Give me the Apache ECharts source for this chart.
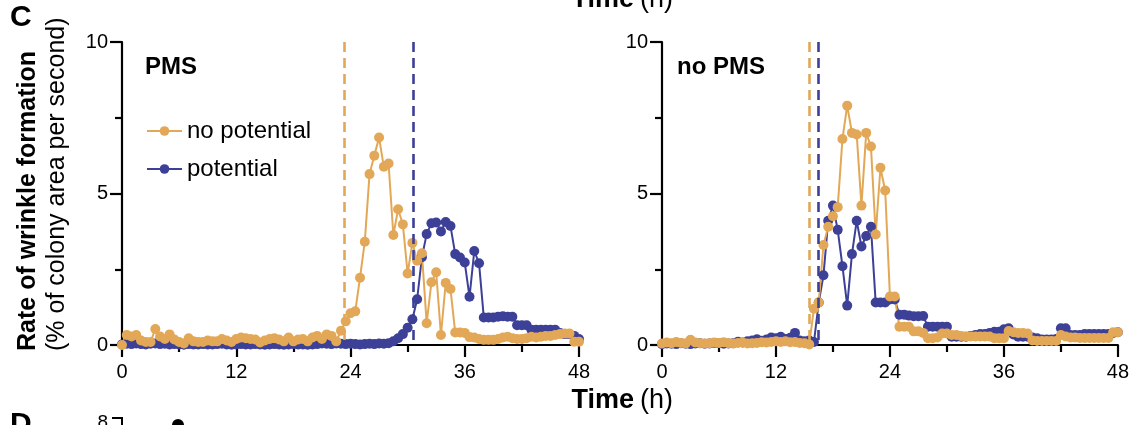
<!DOCTYPE html>
<html>
<head>
<meta charset="utf-8">
<script src="https://cdn.jsdelivr.net/npm/echarts@6/dist/echarts.min.js"></script>
<style>
html,body{margin:0;padding:0;background:#fff;}
#chart{width:1132px;height:425px;}
</style>
</head>
<body>
<div id="chart"></div>
<script>
// Sampling times (h)
const TIMES = [0,0.5,1,1.5,2,2.5,3,3.5,4,4.5,5,5.5,6,6.5,7,7.5,8,8.5,9,9.5,
10,10.5,11,11.5,12,12.5,13,13.5,14,14.5,15,15.5,16,16.5,17,17.5,18,18.5,19,19.5,
20,20.5,21,21.5,22,22.5,23,23.5,24,24.5,25,25.5,26,26.5,27,27.5,28,28.5,29,29.5,
30,30.5,31,31.5,32,32.5,33,33.5,34,34.5,35,35.5,36,36.5,37,37.5,38,38.5,39,39.5,
40,40.5,41,41.5,42,42.5,43,43.5,44,44.5,45,45.5,46,46.5,47,47.5,48];

// PMS panel
const PMS_NO_POTENTIAL = [0.00,0.33,0.28,0.33,0.15,0.10,0.10,0.53,0.28,0.20,
0.35,0.18,0.10,0.05,0.22,0.12,0.10,0.10,0.15,0.12,
0.12,0.20,0.15,0.10,0.20,0.25,0.22,0.20,0.18,0.08,
0.15,0.20,0.22,0.18,0.12,0.25,0.12,0.18,0.20,0.12,
0.25,0.30,0.20,0.35,0.30,0.12,0.47,0.78,1.05,1.11,
2.22,3.41,5.64,6.25,6.85,5.88,5.99,3.63,4.48,3.98,
2.36,3.37,2.78,3.03,0.72,2.07,2.40,0.33,2.05,1.85,
0.41,0.41,0.40,0.26,0.25,0.20,0.17,0.17,0.17,0.20,
0.25,0.27,0.22,0.20,0.20,0.22,0.27,0.25,0.27,0.30,
0.30,0.33,0.36,0.38,0.38,0.11,0.11];
const PMS_POTENTIAL = [0.02,0.04,0.03,0.05,0.03,0.02,0.04,0.05,0.03,0.04,
0.02,0.03,0.02,0.01,0.03,0.02,0.02,0.03,0.02,0.02,
0.03,0.04,0.02,0.01,0.02,0.03,0.02,0.02,0.03,0.02,
0.01,0.02,0.03,0.02,0.01,0.02,0.03,0.02,0.02,0.01,
0.02,0.03,0.05,0.04,0.03,0.05,0.04,0.03,0.04,0.03,
0.02,0.03,0.04,0.03,0.05,0.04,0.06,0.12,0.22,0.36,
0.57,0.85,1.51,2.90,3.66,4.02,4.04,3.75,4.06,3.93,
3.00,2.89,2.72,1.59,3.10,2.70,0.91,0.91,0.91,0.93,
0.95,0.93,0.93,0.65,0.65,0.65,0.50,0.50,0.50,0.50,
0.50,0.50,0.40,0.36,0.36,0.30,0.20];

// no PMS panel
const NOPMS_NO_POTENTIAL = [0.05,0.08,0.06,0.10,0.07,0.05,0.17,0.08,0.06,0.05,
0.06,0.08,0.07,0.09,0.06,0.05,0.07,0.08,0.05,0.06,
0.07,0.09,0.08,0.10,0.12,0.10,0.12,0.09,0.10,0.07,
0.06,0.02,1.20,1.40,3.30,3.90,4.25,4.55,6.80,7.90,
7.00,6.95,4.60,7.00,6.55,3.65,5.85,5.10,1.60,1.60,
0.60,0.60,0.60,0.45,0.45,0.40,0.22,0.22,0.25,0.38,
0.38,0.33,0.33,0.30,0.28,0.28,0.28,0.28,0.28,0.28,
0.22,0.22,0.22,0.46,0.42,0.40,0.40,0.38,0.15,0.13,
0.13,0.13,0.13,0.13,0.33,0.28,0.25,0.25,0.23,0.23,
0.23,0.23,0.23,0.23,0.23,0.42,0.42];
const NOPMS_POTENTIAL = [0.03,0.05,0.04,0.03,0.06,0.04,0.03,0.05,0.06,0.04,
0.05,0.07,0.06,0.04,0.05,0.06,0.11,0.08,0.12,0.15,
0.19,0.14,0.18,0.25,0.22,0.27,0.20,0.24,0.40,0.15,
0.12,0.15,0.10,1.40,2.30,4.10,4.60,3.80,2.60,1.30,
3.00,4.10,3.25,3.60,3.90,1.40,1.40,1.40,1.50,1.50,
1.00,1.00,0.97,0.95,0.95,0.96,0.60,0.60,0.60,0.60,
0.60,0.27,0.27,0.27,0.27,0.30,0.33,0.36,0.36,0.40,
0.44,0.44,0.52,0.55,0.35,0.27,0.27,0.27,0.25,0.22,
0.18,0.18,0.18,0.20,0.55,0.55,0.33,0.33,0.33,0.36,
0.36,0.36,0.36,0.36,0.36,0.40,0.42];

// Onset times (dashed lines), h
const ONSET_PMS = {noPotential: 23.3, potential: 30.6};
const ONSET_NOPMS = {noPotential: 15.55, potential: 16.45};

const X_TICKS = [0, 12, 24, 36, 48];
const Y_TICKS = [0, 5, 10];
const PANEL_TITLES = ['PMS', 'no PMS'];
const SERIES_NAMES = ['no potential', 'potential'];

const ORANGE = '#E2A857';
const BLUE = '#3D4097';
const FONT = '"Liberation Sans", Arial, Helvetica, sans-serif';

const pairs = (vals) => TIMES.map((t, i) => [t, vals[i]]);

const chart = echarts.init(document.getElementById('chart'), null, {renderer: 'canvas'});

function xAxis(gi) {
  return {
    gridIndex: gi, type: 'value', min: X_TICKS[0], max: X_TICKS[X_TICKS.length - 1],
    interval: X_TICKS[1] - X_TICKS[0],
    axisLine: {show: true, onZero: false, lineStyle: {color: '#000', width: 2.2}},
    axisTick: {show: true, length: 12, lineStyle: {color: '#000', width: 2.2}},
    minorTick: {show: true, splitNumber: 2, length: 7, lineStyle: {color: '#000', width: 2.2}},
    splitLine: {show: false}, minorSplitLine: {show: false},
    axisLabel: {fontSize: 20, color: '#000', margin: 17, fontFamily: FONT}
  };
}
function yAxis(gi) {
  return {
    gridIndex: gi, type: 'value', min: Y_TICKS[0], max: Y_TICKS[Y_TICKS.length - 1],
    interval: Y_TICKS[1] - Y_TICKS[0],
    axisLine: {show: true, onZero: false, lineStyle: {color: '#000', width: 2.2}},
    axisTick: {show: true, length: 12, lineStyle: {color: '#000', width: 2.2}},
    minorTick: {show: true, splitNumber: 2, length: 7, lineStyle: {color: '#000', width: 2.2}},
    splitLine: {show: false}, minorSplitLine: {show: false},
    axisLabel: {fontSize: 20, color: '#000', margin: 14, fontFamily: FONT}
  };
}
function dataSeries(name, color, vals, gi) {
  return {
    name: name, type: 'line', xAxisIndex: gi, yAxisIndex: gi,
    data: pairs(vals), symbol: 'circle', symbolSize: 10, showAllSymbol: true,
    itemStyle: {color: color}, lineStyle: {color: color, width: 2},
    z: 3, animation: false
  };
}
function onsetSeries(onset, gi) {
  const dash = {type: [10, 6], width: 2.6};
  return {
    name: '_onset' + gi, type: 'line', xAxisIndex: gi, yAxisIndex: gi, data: [], z: 1,
    markLine: {
      silent: true, symbol: ['none', 'none'], label: {show: false}, animation: false,
      data: [
        [{coord: [onset.noPotential, 10], lineStyle: Object.assign({color: ORANGE}, dash)},
         {coord: [onset.noPotential, 0]}],
        [{coord: [onset.potential, 10], lineStyle: Object.assign({color: BLUE}, dash)},
         {coord: [onset.potential, 0]}]
      ]
    }
  };
}
function txt(x, y, text, font, align, rot) {
  const el = {type: 'text', x: x, y: y, style: {text: text, font: font + ' ' + FONT, fill: '#000',
    align: align, verticalAlign: 'middle', textAlign: align, textVerticalAlign: 'middle'}};
  if (rot) el.rotation = rot;
  return el;
}

const option = {
  backgroundColor: '#fff',
  animation: false,
  textStyle: {fontFamily: FONT},
  grid: [
    {left: 122, top: 42, width: 457, height: 303},
    {left: 662, top: 42, width: 457, height: 303}
  ],
  xAxis: [xAxis(0), xAxis(1)],
  yAxis: [yAxis(0), yAxis(1)],
  legend: {
    data: SERIES_NAMES, orient: 'vertical', left: 141, top: 114,
    itemWidth: 35, itemHeight: 12, itemGap: 14,
    textStyle: {fontSize: 24, color: '#000', fontFamily: FONT}, selectedMode: false
  },
  series: [
    onsetSeries(ONSET_PMS, 0),
    onsetSeries(ONSET_NOPMS, 1),
    dataSeries(SERIES_NAMES[1], BLUE, PMS_POTENTIAL, 0),
    dataSeries(SERIES_NAMES[0], ORANGE, PMS_NO_POTENTIAL, 0),
    dataSeries(SERIES_NAMES[1], BLUE, NOPMS_POTENTIAL, 1),
    dataSeries(SERIES_NAMES[0], ORANGE, NOPMS_NO_POTENTIAL, 1)
  ],
  graphic: [
    txt(10, 18, 'C', 'bold 30px', 'left'),
    txt(145, 67, PANEL_TITLES[0], 'bold 24px', 'left'),
    txt(677, 67, PANEL_TITLES[1], 'bold 24px', 'left'),
    txt(28, 351, 'Rate of wrinkle formation', 'bold 25px', 'left', Math.PI / 2),
    txt(57, 351, '(% of colony area per second)', '25px', 'left', Math.PI / 2),
    txt(634, 401, 'Time', 'bold 27px', 'right'),
    txt(640, 401, '(h)', '27px', 'left'),
    txt(634, 0, 'Time', 'bold 27px', 'right'),
    txt(640, 0, '(h)', '27px', 'left'),
    txt(10, 425, 'D', 'bold 30px', 'left'),
    txt(108, 423, '8', '19px', 'right'),
    {type: 'line', shape: {x1: 112, y1: 418, x2: 122, y2: 418}, style: {stroke: '#000', lineWidth: 2}},
    {type: 'line', shape: {x1: 122, y1: 417, x2: 122, y2: 425}, style: {stroke: '#000', lineWidth: 2}},
    {type: 'circle', shape: {cx: 178, cy: 425, r: 6}, style: {fill: '#000'}}
  ]
};
chart.setOption(option);
</script>
</body>
</html>
